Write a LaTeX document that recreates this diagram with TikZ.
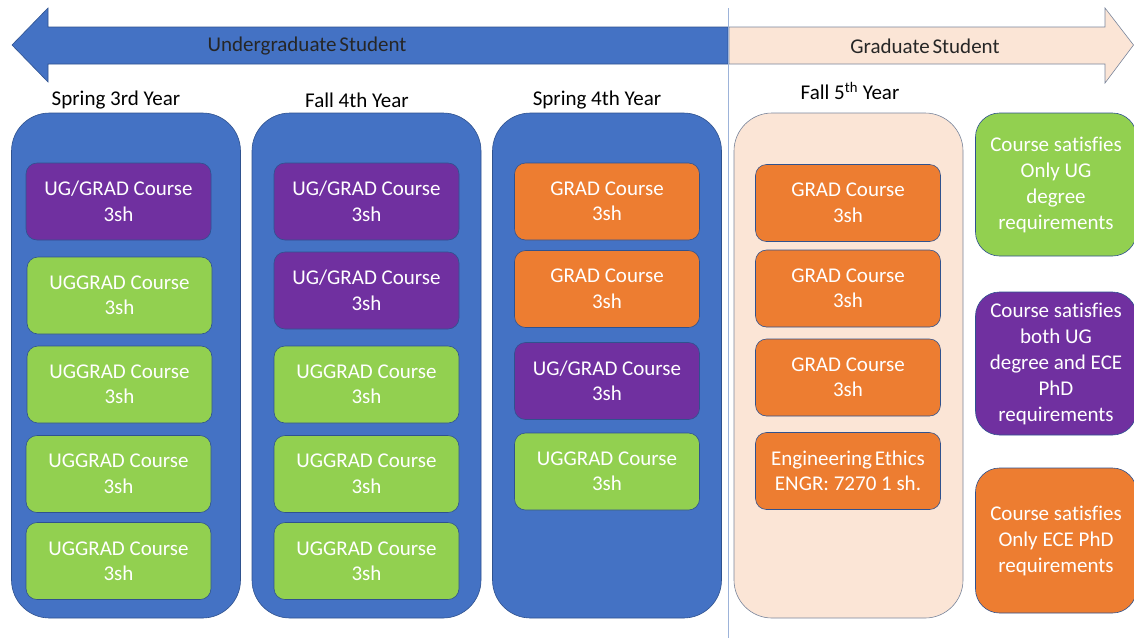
\documentclass[tikz,border=0pt]{standalone}
\usepackage{fontspec}
\setmainfont[Ligatures=NoCommon]{Carlito}
\definecolor{ublue}{HTML}{4472C4}
\definecolor{upurple}{HTML}{7030A0}
\definecolor{ugreen}{HTML}{92D050}
\definecolor{uorange}{HTML}{ED7D31}
\definecolor{upeach}{HTML}{FBE5D6}
\definecolor{uedge}{HTML}{2F528F}
\definecolor{uvline}{HTML}{9DB3D9}
\definecolor{ugrayedge}{HTML}{7A869C}
\begin{document}
\begin{tikzpicture}[x=1pt,y=-1pt,
  every node/.style={font=\fontsize{21}{25.5}\selectfont, align=center, inner sep=0pt},
  container/.style={rounded corners=38pt, minimum width=229pt, minimum height=505pt, draw=uedge, line width=0.6pt, fill=ublue},
  gradcontainer/.style={container, fill=upeach, draw=ugrayedge},
  course/.style={rounded corners=11pt, minimum width=185pt, minimum height=77pt, draw=uedge, line width=0.6pt, text=white},
  legendbox/.style={rounded corners=24pt, minimum width=161pt, draw=uedge, line width=0.6pt, text=white, font=\fontsize{21}{26}\selectfont},
  header/.style={text=black},
  arrowtext/.style={text=black!85}
]
\useasboundingbox (0,0) rectangle (1134,638);
\fill[white] (0,0) rectangle (1134,638);

% top arrows
\draw[fill=ublue, draw=uedge, line width=0.6pt] (12,45) -- (48,8) -- (48,27) -- (728,27) -- (728,64) -- (48,64) -- (48,82) -- cycle;
\draw[fill=upeach, draw=ugrayedge, line width=0.6pt] (729,27) -- (1105,27) -- (1105,8) -- (1133.5,45) -- (1105,83) -- (1105,64) -- (729,64) -- cycle;
\node[arrowtext] (ug) at (307,46) {Undergraduate\hspace{-2pt} Student};
\node[arrowtext] (gs) at (925,46) {Graduate\hspace{-2pt} Student};

% divider
\coordinate (vtop) at (728.5,8);
\coordinate (vbot) at (728.5,638);
\draw[uvline, line width=1.5pt] (vtop) -- (vbot);

% headers
\node[header] (h1) at (116,100) {Spring 3rd Year};
\node[header] (h2) at (357,100) {Fall 4th Year};
\node[header] (h3) at (597,100) {Spring 4th Year};
\node[header] (h4) at (850,91) {Fall 5\textsuperscript{th} Year};

% containers
\node[container] (k1) at (126,365.5) {};
\node[container] (k2) at (366.5,365.5) {};
\node[container] (k3) at (607,365.5) {};
\node[gradcontainer] (k4) at (848.5,365.5) {};

% column 1
\node[course, fill=upurple] (a1) at (118.5,201.5) {UG/GRAD Course\\3sh};
\node[course, fill=ugreen] (a2) at (119.5,295.5) {UGGRAD Course\\3sh};
\node[course, fill=ugreen] (a3) at (119.5,384.5) {UGGRAD Course\\3sh};
\node[course, fill=ugreen] (a4) at (118.5,474) {UGGRAD Course\\3sh};
\node[course, fill=ugreen] (a5) at (118.5,561) {UGGRAD Course\\3sh};

% column 2
\node[course, fill=upurple] (b1) at (366.5,201.5) {UG/GRAD Course\\3sh};
\node[course, fill=upurple] (b2) at (366.5,290.5) {UG/GRAD Course\\3sh};
\node[course, fill=ugreen] (b3) at (366.5,384.5) {UGGRAD Course\\3sh};
\node[course, fill=ugreen] (b4) at (366.5,474) {UGGRAD Course\\3sh};
\node[course, fill=ugreen] (b5) at (366.5,561) {UGGRAD Course\\3sh};

% column 3
\node[course, fill=uorange] (c1) at (607,201.5) {GRAD Course\\3sh};
\node[course, fill=uorange] (c2) at (607,289) {GRAD Course\\3sh};
\node[course, fill=upurple] (c3) at (607,381) {UG/GRAD Course\\3sh};
\node[course, fill=ugreen] (c4) at (607,471.5) {UGGRAD Course\\3sh};

% column 4
\node[course, fill=uorange] (d1) at (848,203) {GRAD Course\\3sh};
\node[course, fill=uorange] (d2) at (848,288.5) {GRAD Course\\3sh};
\node[course, fill=uorange] (d3) at (848,377.5) {GRAD Course\\3sh};
\node[course, fill=uorange] (d4) at (848,471) {Engineering\hspace{-2pt} Ethics\\ENGR: 7270 1 sh.};

% legend
\node[legendbox, fill=ugreen, minimum height=143pt] (l1) at (1056,184.5) {Course satisfies\\Only UG\\degree\\requirements};
\node[legendbox, fill=upurple, minimum height=143pt] (l2) at (1056,363.5) {Course satisfies\\both UG\\degree and ECE\\PhD\\requirements};
\node[legendbox, fill=uorange, minimum height=145pt] (l3) at (1056,540.5) {Course satisfies\\Only ECE PhD\\requirements};
\end{tikzpicture}
\end{document}
